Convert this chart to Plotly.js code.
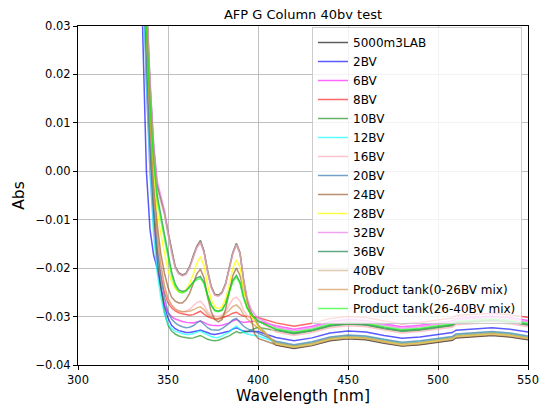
<!DOCTYPE html>
<html>
<head>
<meta charset="utf-8">
<script src="https://cdn.plot.ly/plotly-3.0.1.min.js"></script>
<style>html,body{margin:0;padding:0;background:#fff;}#chart{width:548px;height:411px;}</style>
</head>
<body>
<div id="chart"></div>
<script>
// Wavelength grid (nm)
const wavelength = [334,336,338,340,342,344,346,348,350,352,354,356,358,360,362,364,366,368,370,372,374,376,378,380,382,384,386,388,390,392,394,396,398,400,
  410,420,430,440,450,460,470,480,490,500,508,510,520,530,540,550];

const seriesNames = ["5000m3LAB","2BV","6BV","8BV","10BV","12BV","16BV","20BV","24BV","28BV","32BV","36BV","40BV","Product tank(0-26BV mix)","Product tank(26-40BV mix)"];

const absLAB = [0.090,0.060,0.036,0.018,0.005,-0.0030,-0.0058,-0.0085,-0.0125,-0.0165,-0.0197,-0.0210,-0.0214,-0.0211,-0.0197,-0.0175,-0.0155,-0.0143,-0.0165,-0.0205,-0.0238,-0.0254,-0.0256,-0.0250,-0.0232,-0.0200,-0.0168,-0.0149,-0.0168,-0.0225,-0.0268,-0.0290,-0.0303,-0.0318,
  -0.0359,-0.0366,-0.0360,-0.0350,-0.0346,-0.0348,-0.0355,-0.0361,-0.0358,-0.0353,-0.0349,-0.0344,-0.0342,-0.0339,-0.0342,-0.0348];
const abs2BV = [0.070,0.028,0.000,-0.0120,-0.0173,-0.0200,-0.0240,-0.0278,-0.0303,-0.0318,-0.0325,-0.0329,-0.0331,-0.0333,-0.0333,-0.0332,-0.0330,-0.0328,-0.0331,-0.0334,-0.0336,-0.0337,-0.0336,-0.0334,-0.0332,-0.0330,-0.0326,-0.0323,-0.0327,-0.0330,-0.0331,-0.0331,-0.0331,-0.0331,
  -0.0343,-0.0350,-0.0344,-0.0334,-0.0330,-0.0332,-0.0339,-0.0345,-0.0342,-0.0337,-0.0333,-0.0328,-0.0326,-0.0323,-0.0326,-0.0332];
const abs6BV = [0.085,0.045,0.018,0.000,-0.0110,-0.0190,-0.0240,-0.0275,-0.0292,-0.0300,-0.0305,-0.0308,-0.0310,-0.0312,-0.0313,-0.0313,-0.0311,-0.0309,-0.0312,-0.0316,-0.0318,-0.0319,-0.0319,-0.0318,-0.0316,-0.0313,-0.0309,-0.0306,-0.0310,-0.0312,-0.0311,-0.0310,-0.0309,-0.0309,
  -0.0319,-0.0326,-0.0320,-0.0310,-0.0306,-0.0308,-0.0315,-0.0321,-0.0318,-0.0313,-0.0309,-0.0304,-0.0302,-0.0299,-0.0302,-0.0308];
const abs8BV = [0.085,0.045,0.020,0.004,-0.0080,-0.0160,-0.0210,-0.0250,-0.0272,-0.0282,-0.0288,-0.0292,-0.0294,-0.0296,-0.0297,-0.0296,-0.0292,-0.0289,-0.0295,-0.0300,-0.0303,-0.0305,-0.0305,-0.0303,-0.0300,-0.0297,-0.0293,-0.0291,-0.0296,-0.0299,-0.0300,-0.0300,-0.0301,-0.0302,
  -0.0313,-0.0320,-0.0314,-0.0304,-0.0300,-0.0302,-0.0309,-0.0315,-0.0312,-0.0307,-0.0303,-0.0298,-0.0296,-0.0293,-0.0296,-0.0302];
const abs10BV = [0.085,0.045,0.025,0.006,-0.0080,-0.0180,-0.0240,-0.0290,-0.0318,-0.0330,-0.0336,-0.0340,-0.0342,-0.0344,-0.0345,-0.0344,-0.0341,-0.0339,-0.0343,-0.0347,-0.0349,-0.0350,-0.0349,-0.0346,-0.0343,-0.0340,-0.0335,-0.0331,-0.0334,-0.0333,-0.0331,-0.0328,-0.0325,-0.0322,
  -0.0329,-0.0336,-0.0330,-0.0320,-0.0316,-0.0318,-0.0325,-0.0331,-0.0328,-0.0323,-0.0319,-0.0314,-0.0312,-0.0309,-0.0312,-0.0318];
const abs12BV = [0.080,0.040,0.018,0.000,-0.0130,-0.0210,-0.0260,-0.0295,-0.0315,-0.0325,-0.0330,-0.0333,-0.0335,-0.0337,-0.0337,-0.0335,-0.0332,-0.0330,-0.0334,-0.0338,-0.0341,-0.0343,-0.0343,-0.0340,-0.0336,-0.0332,-0.0325,-0.0320,-0.0326,-0.0333,-0.0336,-0.0338,-0.0339,-0.0340,
  -0.0353,-0.0360,-0.0354,-0.0344,-0.0340,-0.0342,-0.0349,-0.0355,-0.0352,-0.0347,-0.0343,-0.0338,-0.0336,-0.0333,-0.0336,-0.0342];
const abs16BV = [0.090,0.050,0.028,0.009,-0.0050,-0.0140,-0.0200,-0.0240,-0.0265,-0.0278,-0.0285,-0.0289,-0.0290,-0.0289,-0.0285,-0.0278,-0.0271,-0.0268,-0.0277,-0.0290,-0.0297,-0.0299,-0.0300,-0.0297,-0.0290,-0.0276,-0.0264,-0.0260,-0.0268,-0.0287,-0.0298,-0.0303,-0.0306,-0.0308,
  -0.0332,-0.0339,-0.0333,-0.0323,-0.0319,-0.0321,-0.0328,-0.0334,-0.0331,-0.0326,-0.0322,-0.0317,-0.0315,-0.0312,-0.0315,-0.0321];
const abs20BV = [0.085,0.045,0.025,0.006,-0.0070,-0.0160,-0.0220,-0.0260,-0.0290,-0.0305,-0.0313,-0.0318,-0.0321,-0.0323,-0.0322,-0.0319,-0.0313,-0.0309,-0.0316,-0.0323,-0.0327,-0.0328,-0.0328,-0.0325,-0.0320,-0.0314,-0.0307,-0.0304,-0.0312,-0.0320,-0.0325,-0.0328,-0.0330,-0.0334,
  -0.0351,-0.0358,-0.0352,-0.0342,-0.0338,-0.0340,-0.0347,-0.0353,-0.0350,-0.0345,-0.0341,-0.0336,-0.0334,-0.0331,-0.0334,-0.0340];
const abs24BV = [0.090,0.050,0.032,0.013,-0.0020,-0.0110,-0.0170,-0.0210,-0.0240,-0.0260,-0.0268,-0.0272,-0.0272,-0.0265,-0.0252,-0.0232,-0.0212,-0.0202,-0.0220,-0.0260,-0.0290,-0.0306,-0.0311,-0.0306,-0.0285,-0.0250,-0.0215,-0.0200,-0.0215,-0.0245,-0.0265,-0.0300,-0.0335,-0.0345,
  -0.0358,-0.0365,-0.0359,-0.0349,-0.0345,-0.0347,-0.0354,-0.0360,-0.0357,-0.0352,-0.0348,-0.0343,-0.0341,-0.0338,-0.0341,-0.0347];
const abs28BV = [0.090,0.050,0.030,0.012,0.000,-0.0080,-0.0130,-0.0170,-0.0205,-0.0228,-0.0242,-0.0249,-0.0250,-0.0245,-0.0232,-0.0213,-0.0190,-0.0176,-0.0195,-0.0235,-0.0265,-0.0280,-0.0283,-0.0280,-0.0263,-0.0235,-0.0200,-0.0183,-0.0198,-0.0245,-0.0280,-0.0298,-0.0310,-0.0320,
  -0.0356,-0.0363,-0.0357,-0.0347,-0.0343,-0.0345,-0.0352,-0.0358,-0.0355,-0.0350,-0.0346,-0.0341,-0.0339,-0.0336,-0.0339,-0.0345];
const abs32BV = [0.090,0.060,0.037,0.019,0.006,-0.0020,-0.0050,-0.0080,-0.0125,-0.0168,-0.0199,-0.0212,-0.0216,-0.0213,-0.0199,-0.0178,-0.0158,-0.0147,-0.0168,-0.0208,-0.0240,-0.0256,-0.0258,-0.0252,-0.0234,-0.0202,-0.0171,-0.0152,-0.0170,-0.0222,-0.0262,-0.0283,-0.0295,-0.0303,
  -0.0322,-0.0329,-0.0323,-0.0313,-0.0309,-0.0311,-0.0318,-0.0324,-0.0321,-0.0316,-0.0312,-0.0307,-0.0305,-0.0302,-0.0305,-0.0311];
const abs36BV = [0.090,0.055,0.031,0.015,0.003,-0.0050,-0.0090,-0.0130,-0.0170,-0.0208,-0.0233,-0.0245,-0.0248,-0.0246,-0.0238,-0.0228,-0.0220,-0.0217,-0.0229,-0.0255,-0.0276,-0.0287,-0.0289,-0.0286,-0.0273,-0.0248,-0.0225,-0.0215,-0.0229,-0.0260,-0.0282,-0.0294,-0.0302,-0.0309,
  -0.0327,-0.0334,-0.0328,-0.0318,-0.0314,-0.0316,-0.0323,-0.0329,-0.0326,-0.0321,-0.0317,-0.0312,-0.0310,-0.0307,-0.0310,-0.0316];
const abs40BV = [0.090,0.060,0.035,0.017,0.004,-0.0035,-0.0062,-0.0090,-0.0130,-0.0168,-0.0199,-0.0211,-0.0215,-0.0212,-0.0198,-0.0177,-0.0156,-0.0145,-0.0166,-0.0206,-0.0239,-0.0255,-0.0257,-0.0251,-0.0233,-0.0201,-0.0169,-0.0150,-0.0169,-0.0226,-0.0269,-0.0291,-0.0304,-0.0316,
  -0.0357,-0.0364,-0.0358,-0.0348,-0.0344,-0.0346,-0.0353,-0.0359,-0.0356,-0.0351,-0.0347,-0.0342,-0.0340,-0.0337,-0.0340,-0.0346];
const absTank0to26 = [0.090,0.050,0.030,0.010,-0.0040,-0.0130,-0.0190,-0.0235,-0.0262,-0.0276,-0.0284,-0.0288,-0.0290,-0.0290,-0.0289,-0.0286,-0.0282,-0.0280,-0.0286,-0.0295,-0.0301,-0.0304,-0.0304,-0.0301,-0.0295,-0.0287,-0.0279,-0.0276,-0.0283,-0.0296,-0.0305,-0.0312,-0.0318,-0.0324,
  -0.0354,-0.0361,-0.0355,-0.0345,-0.0341,-0.0343,-0.0350,-0.0356,-0.0353,-0.0348,-0.0344,-0.0339,-0.0337,-0.0334,-0.0337,-0.0343];
const absTank26to40 = [0.090,0.055,0.030,0.014,0.002,-0.0060,-0.0100,-0.0140,-0.0180,-0.0215,-0.0238,-0.0249,-0.0251,-0.0248,-0.0240,-0.0230,-0.0224,-0.0221,-0.0232,-0.0258,-0.0278,-0.0288,-0.0290,-0.0287,-0.0275,-0.0250,-0.0228,-0.0218,-0.0232,-0.0262,-0.0283,-0.0295,-0.0303,-0.0310,
  -0.0325,-0.0332,-0.0326,-0.0316,-0.0312,-0.0314,-0.0321,-0.0327,-0.0324,-0.0319,-0.0315,-0.0310,-0.0308,-0.0305,-0.0308,-0.0314];

const seriesValues = [absLAB, abs2BV, abs6BV, abs8BV, abs10BV, abs12BV, abs16BV, abs20BV, abs24BV, abs28BV, abs32BV, abs36BV, abs40BV, absTank0to26, absTank26to40];

const lineColors = [
  'rgba(40,40,40,0.75)','rgba(0,0,255,0.65)','rgba(255,0,255,0.6)','rgba(255,0,0,0.6)','rgba(0,128,0,0.6)',
  'rgba(0,255,255,0.65)','rgba(255,182,193,0.8)','rgba(70,130,180,0.75)','rgba(139,69,19,0.6)','rgba(255,255,0,0.75)',
  'rgba(238,130,238,0.75)','rgba(46,139,87,0.75)','rgba(210,180,140,0.7)','rgba(205,133,63,0.6)','rgba(0,255,0,0.6)'
];

const traces = seriesNames.map((name, i) => ({
  type: 'scatter', mode: 'lines', name: name,
  x: wavelength, y: seriesValues[i],
  line: {color: lineColors[i], width: 1.5}
}));

const axisCommon = {
  showgrid: true, gridcolor: '#b0b0b0', gridwidth: 0.8,
  showline: true, linecolor: 'black', linewidth: 1, mirror: true,
  ticks: 'outside', ticklen: 4, tickcolor: 'black', tickwidth: 1,
  zeroline: false, automargin: false,
  tickfont: {size: 11.5, color: 'black'}
};

const layout = {
  width: 548, height: 411,
  margin: {l: 78, r: 20, t: 26, b: 46},
  paper_bgcolor: 'white', plot_bgcolor: 'white',
  font: {family: 'DejaVu Sans, sans-serif', size: 11.5, color: 'black'},
  title: {text: 'AFP G Column 40bv test', font: {size: 13, color: 'black'}, x: 0.5, xref: 'paper', xanchor: 'center', y: 1 - 14/411, yref: 'container', yanchor: 'middle'},
  xaxis: Object.assign({}, axisCommon, {range: [300, 550], tickvals: [300,350,400,450,500,550], title: {text: 'Wavelength [nm]', font: {size: 15.5}, standoff: 2}}),
  yaxis: Object.assign({}, axisCommon, {range: [-0.04, 0.03], dtick: 0.01, tick0: 0, tickformat: '.2f', title: {text: 'Abs', font: {size: 15.5}, standoff: 7}}),
  showlegend: true,
  legend: {x: 0.9867, xanchor: 'right', y: 1 - 1/339, yanchor: 'top', bgcolor: 'rgba(255,255,255,0.8)', bordercolor: '#cccccc', borderwidth: 1, font: {size: 12, color: 'black'}}
};

Plotly.newPlot('chart', traces, layout, {displayModeBar: false, staticPlot: true});
</script>
</body>
</html>
